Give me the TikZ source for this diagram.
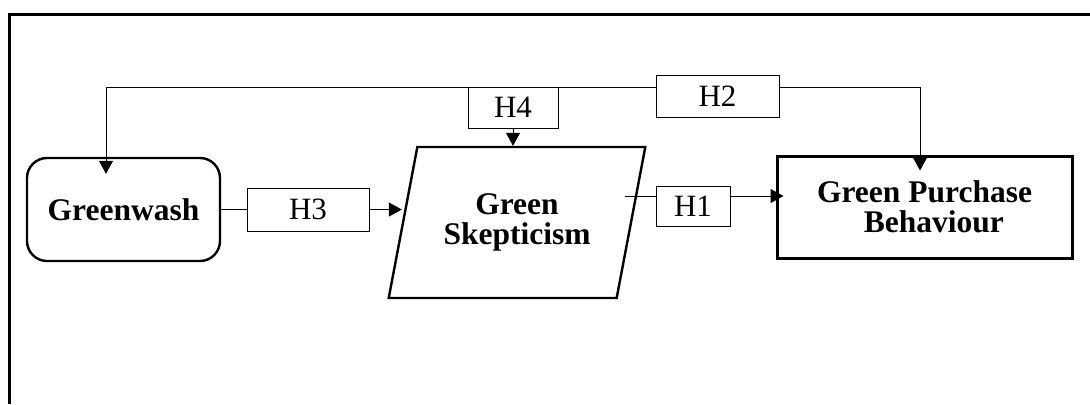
\documentclass[tikz,border=0pt]{standalone}
\usepackage{fontspec}
\setmainfont{Liberation Serif}
\usetikzlibrary{arrows.meta}
\usetikzlibrary{shapes.geometric}

\begin{document}
\begin{tikzpicture}[x=0.5pt,y=-0.5pt,>={Triangle[length=6.5pt,width=7pt]},line width=0.5pt,
    main node/.style={draw,line width=1.2pt,font=\fontsize{15.75}{15}\selectfont\bfseries,align=center},
    hyp node/.style={draw,line width=0.5pt,font=\fontsize{15.5}{18}\selectfont,inner sep=0pt}]

  \useasboundingbox (0,0) rectangle (1090,404);
  \draw[line width=1.5pt] (9.5,404) -- (9.5,14) -- (1090,14);

  \node[main node,rounded corners=10pt,minimum width=96.5pt,minimum height=51.5pt] (gw) at (123.5,209.5) {Greenwash};
  \node[hyp node,minimum width=61pt,minimum height=21.5pt] (h3) at (308,209.5) {H3};
  \node[main node,trapezium,trapezium left angle=72,trapezium right angle=108,trapezium stretches=true,
    minimum width=128.5pt,minimum height=75.5pt] (gs) at (517,222.5) {Green\\Skepticism};
  \node[hyp node,minimum width=45pt,minimum height=20.5pt] (h4) at (513,107.5) {H4};
  \node[hyp node,minimum width=61.5pt,minimum height=21pt] (h2) at (717.5,96) {H2};
  \node[hyp node,minimum width=37pt,minimum height=20pt] (h1) at (693,206) {H1};
  \node[main node,line width=1.5pt,minimum width=147.5pt,minimum height=51pt] (gpb) at (924.5,207) {Green Purchase\\\hspace*{0.6em}Behaviour};

  \coordinate (tl) at (106,87);
  \coordinate (tr) at (920,87);
  \coordinate (s1) at (625,196);

  \path (gw.east) edge (h3.west);
  \path[->] (h3.east) edge (h3.east -| gs.west);
  \path[->] (h4.south) edge (h4.south |- gs.north);
  \path (s1) edge (s1 -| h1.west);
  \path[->] (s1 -| h1.east) edge[shorten >=-4pt] (s1 -| gpb.west);
  \draw[->,shorten >=-8.5pt] (h2.west |- tl) -- (tl) -- (tl |- gw.north);
  \draw[->,shorten >=-8pt] (h2.east |- tr) -- (tr) -- (tr |- gpb.north);
\end{tikzpicture}
\end{document}
